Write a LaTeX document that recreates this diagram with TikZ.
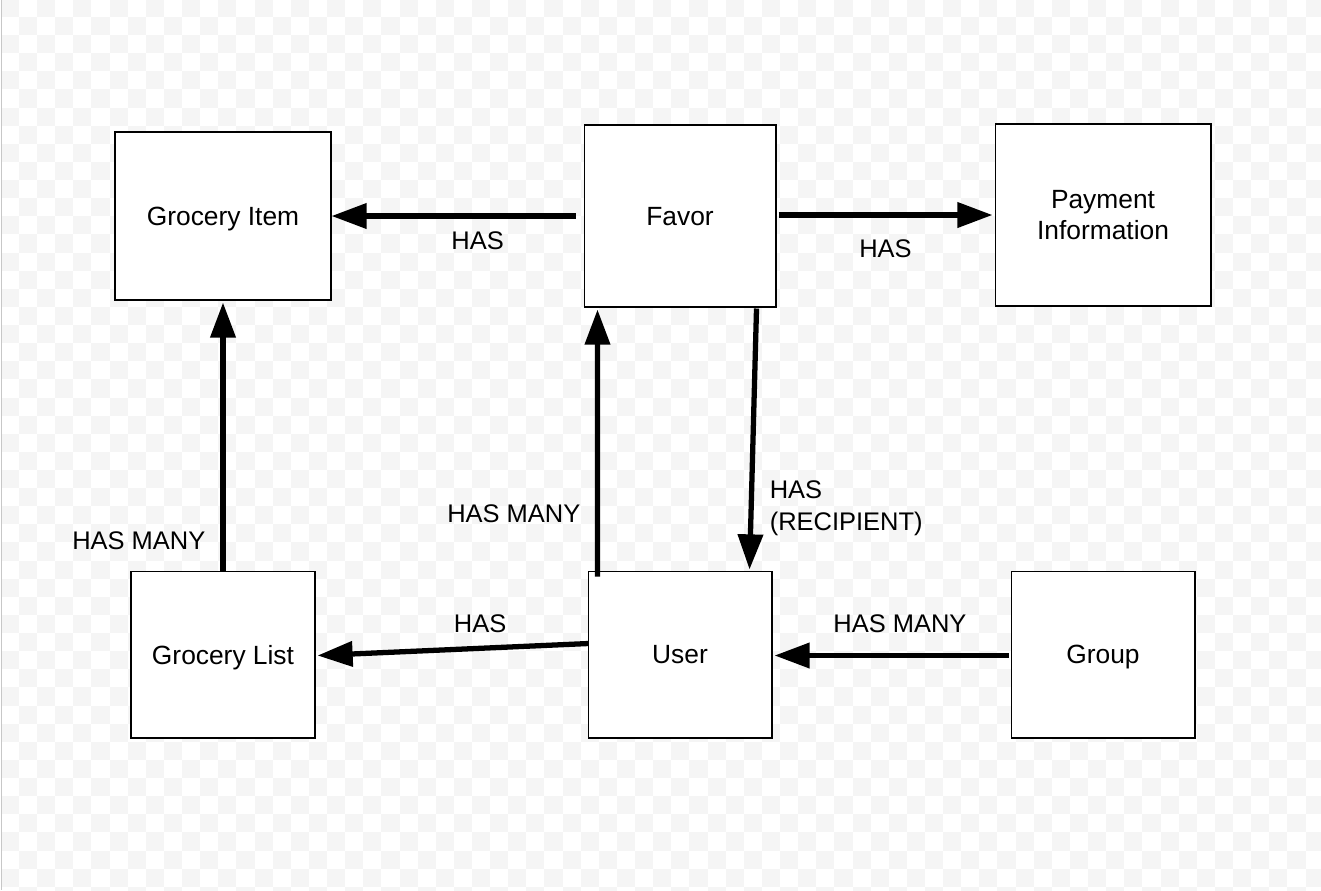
\documentclass[tikz,border=0pt]{standalone}
\usepackage{fontspec}
\setmainfont{Liberation Sans}
\usetikzlibrary{arrows.meta}
\definecolor{checker}{HTML}{F5F5F5}
\begin{document}
\begin{tikzpicture}[x=0.02cm,y=-0.02cm,
  every node/.style={font=\fontsize{15}{18}\selectfont},
  entity/.style={draw,line width=0.6pt,fill=white,align=center,inner sep=0pt,text depth=0pt},
  rel/.style={line width=3pt,-{Triangle[length=20pt,width=14pt]}},
  lbl/.style={inner sep=0pt,align=left,font=\fontsize{14.5}{17.8}\selectfont}]
\useasboundingbox (0,0) rectangle (1321,890);
\begin{scope}
\clip (0,0) rectangle (1321,890);
\foreach \r in {0,...,49} {
  \pgfmathtruncatemacro\off{mod(\r,2)}
  \foreach \k in {0,2,...,74}
    \fill[checker] ({0.88+18.12*(\k+\off)},{-1.12+18.12*\r}) rectangle +(18.12,18.12);
}
\end{scope}
\draw[black!22] (1,0) -- (1,890);

\node[entity,minimum width=4.32cm,minimum height=3.36cm] (gitem) at (223,216) {Grocery Item};
\node[entity,minimum width=3.84cm,minimum height=3.64cm] (favor) at (680,216) {Favor};
\node[entity,minimum width=4.32cm,minimum height=3.64cm] (pay) at (1103,215) {Payment\\Information};
\node[entity,minimum width=3.68cm,minimum height=3.34cm] (glist) at (223,654.5) {Grocery List};
\node[entity,minimum width=3.68cm,minimum height=3.34cm] (user) at (680,654.5) {User};
\node[entity,minimum width=3.68cm,minimum height=3.34cm] (group) at (1103,654.5) {Group};

\draw[rel,shorten <=0.16cm] (favor.west) -- (gitem.east)
  node[lbl,pos=0.42,below=0.26cm] {HAS};
\draw[rel] ([shift={(2,-1)}]favor.east) -- ([shift={(-2,0)}]pay.west)
  node[lbl,pos=0.5,below=0.45cm] {HAS};
\draw[rel] (glist.north) -- ([shift={(0,2)}]gitem.south)
  node[lbl,pos=0.11,left=0.3cm] {HAS MANY};
\draw[rel] ([shift={(10,6)}]user.north west) -- ([shift={(14,2)}]favor.south west)
  node[lbl,pos=0.235,left=0.29cm] {HAS MANY};
\draw[rel] ([shift={(-20,1)}]favor.south east) -- ([shift={(-23,-1)}]user.north east)
  node[lbl,pos=0.765,right=0.32cm] {HAS\\(RECIPIENT)};
\draw[rel] ([shift={(1,-11)}]user.west) -- ([shift={(2,1)}]glist.east)
  node[lbl,pos=0.4,above=0.25cm] {HAS};
\draw[rel] ([shift={(-2,1)}]group.west) -- ([shift={(2,1)}]user.east)
  node[lbl,pos=0.464,above=0.41cm] {HAS MANY};
\end{tikzpicture}
\end{document}
